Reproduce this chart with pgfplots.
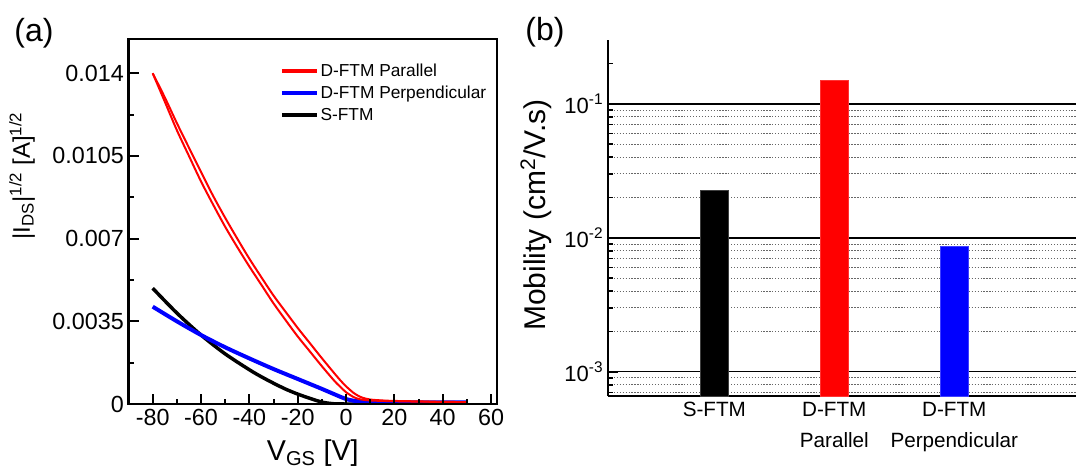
\documentclass[border=0pt]{standalone}
\usepackage{fontspec}
\setmainfont{Liberation Sans}
\usepackage{pgfplots}
\pgfplotsset{compat=1.18}
\begin{document}
\begin{tikzpicture}
\useasboundingbox (0,0) rectangle (807pt,351pt);
\node[font=\fontsize{24}{28}\selectfont] at (25.5pt,326pt) {(a)};
\node[font=\fontsize{24}{28}\selectfont] at (408.75pt,327pt) {(b)};

\begin{axis}[
  at={(96.4pt,48pt)}, anchor=south west,
  scale only axis, width=276.4pt, height=273.75pt,
  xmin=-90, xmax=62.5, ymin=0, ymax=0.01545,
  axis on top,
  axis line style={line width=2pt},
  tick pos=left, tick align=inside,
  major tick length=7.5pt, minor tick length=3.75pt,
  every tick/.style={line width=1.5pt, black},
  xtick={-80,-60,-40,-20,0,20,40,60},
  xticklabels={-80,-60,-40,-20,0,20,40,60},
  minor xtick={-70,-50,-30,-10,10,30,50},
  ytick={0,0.0035,0.007,0.0105,0.014},
  yticklabels={0,0.0035,0.007,0.0105,0.014},
  minor ytick={0.00175,0.00525,0.00875,0.01225},
  scaled y ticks=false, scaled x ticks=false,
  x tick label style={font=\fontsize{17.5}{19}\selectfont},
  y tick label style={font=\fontsize{17.5}{19}\selectfont},
  xlabel={V\textsubscript{GS} [V]},
  ylabel={|I\textsubscript{DS}|\textsuperscript{1/2} [A]\textsuperscript{1/2}},
  every axis x label/.style={at={(axis description cs:0.5,0)}, anchor=base, yshift=-42.5pt, font=\fontsize{21.5}{24}\selectfont},
  every axis y label/.style={at={(axis description cs:-0.289,0.625)}, rotate=90, anchor=center, font=\fontsize{18}{22}\selectfont},
  legend style={draw=none, fill=none, at={(axis description cs:0.41,0.943)}, anchor=north west,
    inner sep=0pt, font=\fontsize{13}{15}\selectfont,
    nodes={inner sep=1.5pt, text height=10.5pt, text depth=3pt}},
  legend cell align=left,
  legend image code/.code={\draw[#1, line width=3pt] (0pt,0pt) -- (26pt,0pt);},
]
\addlegendimage{red}
\addlegendentry{D-FTM Parallel}
\addlegendimage{blue}
\addlegendentry{D-FTM Perpendicular}
\addlegendimage{black}
\addlegendentry{S-FTM}

% S-FTM
\addplot[black, line width=2.6pt, smooth, forget plot] coordinates {
(-80,0.00490) (-70,0.00385) (-60,0.00292) (-50,0.00212) (-40,0.00145)
(-35,0.00115) (-30,0.00088) (-25,0.00063) (-20,0.00042) (-15,0.00024)
(-12,0.00014) (-10,0.00008) (-7,0.00003) (-5,0.00001) (0,0.00000)
(10,0) (20,0) (30,0) (40,0) (50,0)
};
% D-FTM Perpendicular
\addplot[blue, line width=3pt, smooth, forget plot] coordinates {
(-80,0.00412) (-70,0.00350) (-60,0.00292) (-50,0.00240) (-40,0.00193)
(-30,0.00148) (-20,0.00106) (-15,0.00085) (-10,0.00064) (-5,0.00042)
(-2,0.00029) (0,0.00021) (3,0.00014) (6,0.00011) (10,0.00009)
(20,0.00008) (30,0.00007) (40,0.00007) (50,0.00007)
};
% D-FTM Parallel (two sweeps)
\addplot[red, line width=1.5pt, smooth, forget plot] coordinates {
(-80,0.01400) (-75,0.01298) (-70,0.01189) (-65,0.01085) (-60,0.00982)
(-55,0.00881) (-50,0.00788) (-45,0.00700) (-40,0.00615) (-35,0.00536)
(-30,0.00459) (-25,0.00390) (-20,0.00322) (-15,0.00258) (-10,0.00194)
(-5,0.00132) (-2.5,0.00102) (0,0.00075) (3,0.00048) (5,0.00035)
(7,0.00026) (10,0.00019) (15,0.00015) (20,0.00013) (30,0.00011)
(40,0.00009) (50,0.00008)
};
\addplot[red, line width=1.5pt, smooth, forget plot] coordinates {
(-80,0.01400) (-75,0.01280) (-70,0.01159) (-65,0.01050) (-60,0.00942)
(-55,0.00844) (-50,0.00750) (-45,0.00664) (-40,0.00582) (-35,0.00504)
(-30,0.00426) (-25,0.00355) (-20,0.00286) (-15,0.00223) (-10,0.00160)
(-5,0.00100) (-2.5,0.00074) (0,0.00050) (3,0.00030) (5,0.00022)
(7,0.00018) (10,0.00015) (15,0.00013) (20,0.00012) (30,0.00010)
(40,0.00009) (50,0.00008)
};
\end{axis}

\begin{axis}[
  at={(456pt,54pt)}, anchor=south west,
  scale only axis, width=351pt, height=267pt,
  ymode=log, ymin=6.6e-4, ymax=0.3,
  xmin=-0.886, xmax=3.014,
  log origin y=infty,
  axis x line=bottom, axis y line=left,
  axis line style={line width=2pt, -},
  tick align=inside,
  major tick length=7.5pt, minor tick length=3.75pt,
  every tick/.style={line width=1.2pt, black},
  xtick={0,1,2},
  xticklabels={S-FTM,{D-FTM\\[2.5pt]Parallel},{D-FTM\\[2.5pt]Perpendicular}},
  x tick label style={align=center, font=\fontsize{15.5}{21}\selectfont, yshift=-1pt},
  ytick={1e-3,1e-2,1e-1},
  yticklabels={10\textsuperscript{-3},10\textsuperscript{-2},10\textsuperscript{-1}},
  y tick label style={font=\fontsize{16.5}{19}\selectfont},
  minor ytick={7e-4,8e-4,9e-4,2e-3,3e-3,4e-3,5e-3,6e-3,7e-3,8e-3,9e-3,2e-2,3e-2,4e-2,5e-2,6e-2,7e-2,8e-2,9e-2},
  extra y ticks={0.2}, extra y tick labels={},
  extra y tick style={grid=none, major tick length=3.75pt},
  ymajorgrids, yminorgrids,
  major grid style={black, line width=1pt},
  minor grid style={black!60, dash pattern=on 0.9pt off 1.3pt, line width=0.7pt},
  ylabel={Mobility (cm\textsuperscript{2}/V.s)},
  every axis y label/.style={at={(axis description cs:-0.154,0.508)}, rotate=90, anchor=center, font=\fontsize{22.5}{26}\selectfont},
]
\addplot[ybar, bar width=21pt, bar shift=0pt, fill=black, draw=black!75] coordinates {(0,0.0228)};
\addplot[ybar, bar width=21pt, bar shift=0pt, fill=red, draw=red!80] coordinates {(1,0.151)};
\addplot[ybar, bar width=21pt, bar shift=0pt, fill=blue, draw=blue!75] coordinates {(2,0.00863)};
\end{axis}
\end{tikzpicture}
\end{document}
